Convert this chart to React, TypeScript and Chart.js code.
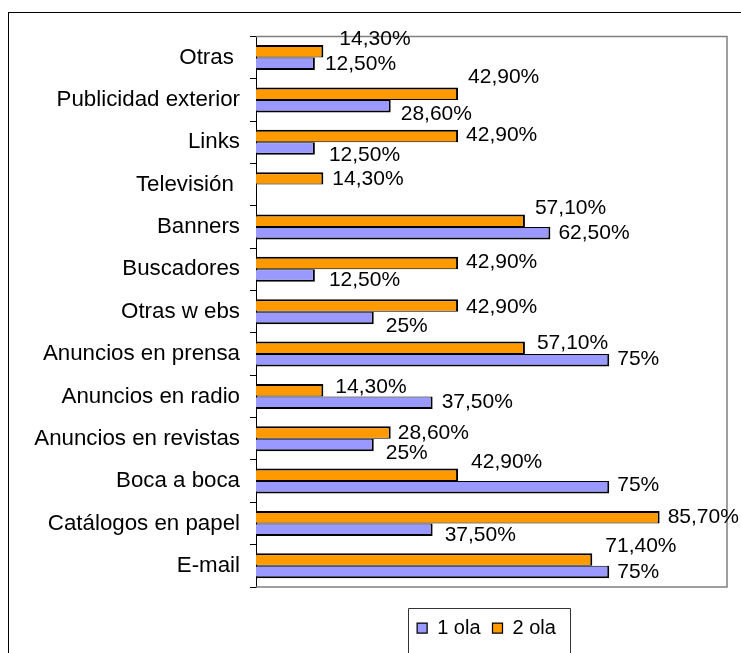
import React, { useEffect, useRef } from "react";
import { Chart, registerables } from "chart.js";

Chart.register(...registerables);

// ---- data ----
const categories = [
  "Otras ",
  "Publicidad exterior",
  "Links",
  "Televisión ",
  "Banners",
  "Buscadores",
  "Otras w ebs",
  "Anuncios en prensa",
  "Anuncios en radio",
  "Anuncios en revistas",
  "Boca a boca",
  "Catálogos en papel",
  "E-mail",
];
const ola1Values: (number | null)[] = [12.5, 28.6, 12.5, null, 62.5, 12.5, 25, 75, 37.5, 25, 75, 37.5, 75];
const ola2Values: (number | null)[] = [14.3, 42.9, 42.9, 14.3, 57.1, 42.9, 42.9, 57.1, 14.3, 28.6, 42.9, 85.7, 71.4];
const seriesNames = ["1 ola", "2 ola"];
const axisMin = 0;
const axisMax = 100;

// ---- value-label nudges (px): [dx from bar end, dy from bar centre] ----
const ola2LabelNudge: [number, number][] = [
  [16, -13.5], [10, -18], [8, -2.5], [9, -1], [10, -14.6], [8, -2.5], [8, 0],
  [12, -6.5], [12, -5], [7, -1], [13, -14.6], [8, -2], [13, -14.6],
];
const ola1LabelNudge: [number, number][] = [
  [10, -1], [10, 6], [14, 4.5], [0, 0], [8, -2], [14, 2.5], [12, 6.5],
  [8, -3], [9, -2], [12, 6], [8, -3.6], [12, 3.3], [8, -2],
];

const FONT = '"Liberation Sans", Arial, sans-serif';

const fmt = (v: number) =>
  (Number.isInteger(v) ? String(v) : v.toFixed(2).replace(".", ",")) + "%";

const valueLabels = {
  id: "valueLabels",
  afterDatasetsDraw(chart: any) {
    const ctx = chart.ctx;
    ctx.save();
    ctx.font = `21px ${FONT}`;
    ctx.fillStyle = "#000";
    ctx.textAlign = "left";
    ctx.textBaseline = "alphabetic";
    chart.data.datasets.forEach((ds: any, di: number) => {
      const meta = chart.getDatasetMeta(di);
      const nudges = di === 0 ? ola2LabelNudge : ola1LabelNudge;
      meta.data.forEach((bar: any, j: number) => {
        const v = ds.data[j];
        if (v == null) return;
        const [dx, dy] = nudges[j];
        ctx.fillText(fmt(v), bar.x + dx, bar.y + dy + 7.5);
      });
    });
    ctx.restore();
  },
};

const plotFrame = {
  id: "plotFrame",
  beforeDatasetsDraw(chart: any) {
    const { ctx, chartArea: a } = chart;
    ctx.save();
    ctx.strokeStyle = "#808080";
    ctx.lineWidth = 1.5;
    ctx.beginPath();
    ctx.moveTo(a.left, a.top);
    ctx.lineTo(a.right, a.top);
    ctx.lineTo(a.right, a.bottom);
    ctx.lineTo(a.left, a.bottom);
    ctx.stroke();
    ctx.restore();
  },
};

const legendShift = {
  id: "legendShift",
  afterLayout(chart: any) {
    const lg = chart.legend;
    if (!lg) return;
    lg.left -= 5;
    lg.right -= 5;
  },
};

const legendFrame = {
  id: "legendFrame",
  afterDraw(chart: any) {
    const lg = chart.legend;
    if (!lg || !lg.legendHitBoxes || !lg.legendHitBoxes.length) return;
    const hb = lg.legendHitBoxes;
    const first = hb[0];
    const last = hb[hb.length - 1];
    const left = first.left - 9;
    const right = last.left + last.width + 14;
    const top = first.top - 10;
    const ctx = chart.ctx;
    ctx.save();
    ctx.strokeStyle = "#333";
    ctx.lineWidth = 1;
    ctx.beginPath();
    ctx.moveTo(Math.round(left) + 0.5, chart.height + 5);
    ctx.lineTo(Math.round(left) + 0.5, Math.round(top) + 0.5);
    ctx.lineTo(Math.round(right) + 0.5, Math.round(top) + 0.5);
    ctx.lineTo(Math.round(right) + 0.5, chart.height + 5);
    ctx.stroke();
    ctx.restore();
  },
};

export default function App() {
  const ref = useRef<HTMLCanvasElement | null>(null);

  useEffect(() => {
    if (!ref.current) return;
    Chart.defaults.font.family = FONT;
    Chart.defaults.color = "#000";
    const chart = new Chart(ref.current, {
      type: "bar",
      data: {
        labels: categories,
        datasets: [
          {
            label: seriesNames[1],
            data: ola2Values,
            backgroundColor: "#FF9900",
            borderColor: "#000",
            borderWidth: { top: 2, bottom: 1, right: 2, left: 0 },
            borderSkipped: "start",
          },
          {
            label: seriesNames[0],
            data: ola1Values,
            backgroundColor: "#9999FF",
            borderColor: "#000",
            borderWidth: { top: 1, bottom: 2, right: 2, left: 0 },
            borderSkipped: "start",
          },
        ],
      },
      options: {
        indexAxis: "y",
        responsive: false,
        animation: false,
        events: [],
        categoryPercentage: 0.59,
        barPercentage: 1,
        layout: { padding: { top: 19, right: 14, bottom: 5, left: 0 } },
        scales: {
          x: {
            min: axisMin,
            max: axisMax,
            display: true,
            grid: { display: false },
            border: { display: false },
            ticks: { display: false },
            afterFit: (s: any) => {
              s.height = 19;
            },
          },
          y: {
            type: "category",
            grid: {
              display: true,
              drawOnChartArea: false,
              drawTicks: true,
              tickLength: 6,
              color: "#000",
              lineWidth: 1,
              offset: true,
            },
            border: { display: true, color: "#000", width: 1 },
            ticks: { font: { size: 22.3, family: FONT }, color: "#000", padding: 10, autoSkip: false },
            afterFit: (s: any) => {
              s.width = 247;
            },
          },
        },
        plugins: {
          legend: {
            display: true,
            position: "bottom",
            fullSize: false,
            reverse: true,
            labels: {
              boxWidth: 10,
              boxHeight: 10,
              padding: 12,
              color: "#000",
              font: { size: 20, family: FONT },
            },
          },
          tooltip: { enabled: false },
          title: { display: false },
        },
      },
      plugins: [plotFrame, valueLabels, legendShift, legendFrame],
    } as any);
    return () => chart.destroy();
  }, []);

  return (
    <div
      style={{
        position: "absolute",
        left: 8,
        top: 12,
        width: 732,
        height: 640,
        borderLeft: "1px solid #000",
        borderTop: "1px solid #000",
        background: "#fff",
      }}
    >
      <canvas ref={ref} width={732} height={640} style={{ display: "block" }} />
    </div>
  );
}
